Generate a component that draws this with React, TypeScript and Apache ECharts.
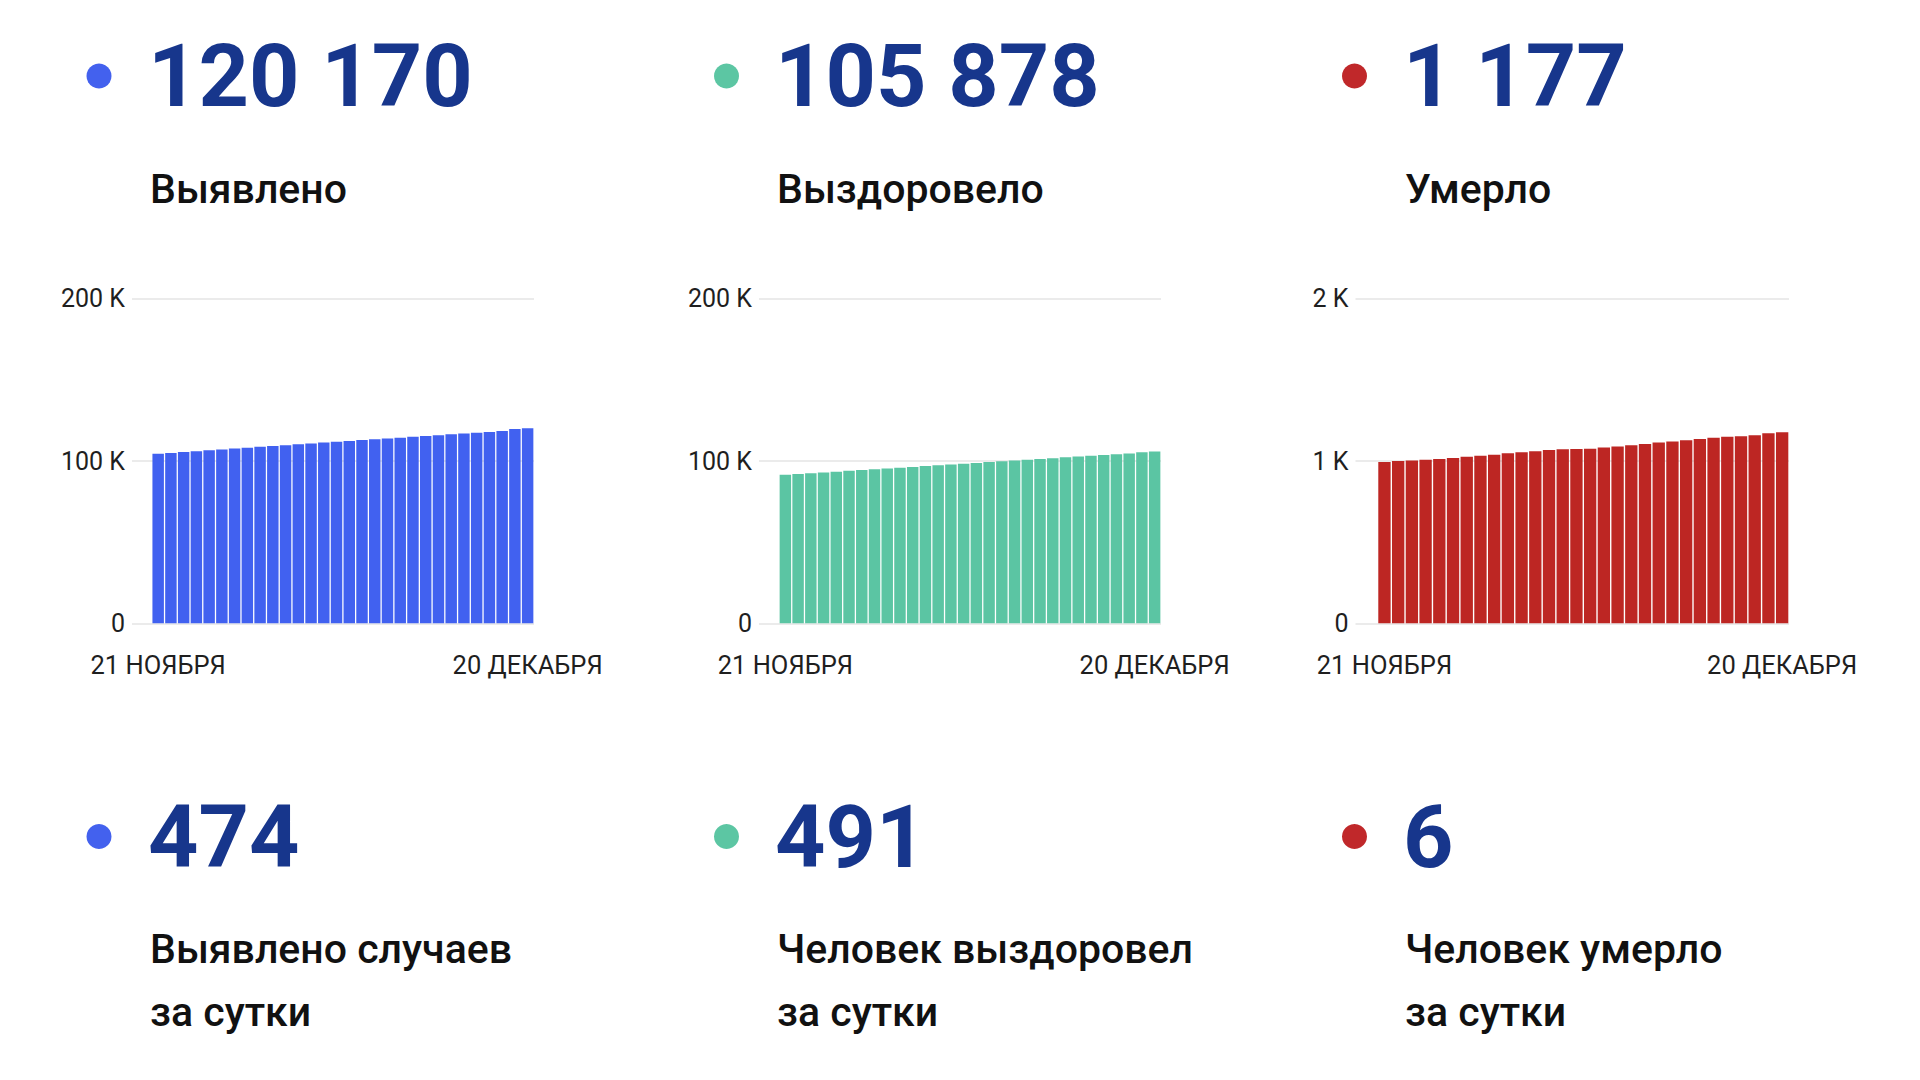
import React, { useEffect, useRef } from 'react';
import * as echarts from 'echarts';

const dates = [
  '21 НОЯБРЯ', '22 НОЯБРЯ', '23 НОЯБРЯ', '24 НОЯБРЯ', '25 НОЯБРЯ', '26 НОЯБРЯ', '27 НОЯБРЯ', '28 НОЯБРЯ', '29 НОЯБРЯ', '30 НОЯБРЯ',
  '1 ДЕКАБРЯ', '2 ДЕКАБРЯ', '3 ДЕКАБРЯ', '4 ДЕКАБРЯ', '5 ДЕКАБРЯ', '6 ДЕКАБРЯ', '7 ДЕКАБРЯ', '8 ДЕКАБРЯ', '9 ДЕКАБРЯ', '10 ДЕКАБРЯ',
  '11 ДЕКАБРЯ', '12 ДЕКАБРЯ', '13 ДЕКАБРЯ', '14 ДЕКАБРЯ', '15 ДЕКАБРЯ', '16 ДЕКАБРЯ', '17 ДЕКАБРЯ', '18 ДЕКАБРЯ', '19 ДЕКАБРЯ', '20 ДЕКАБРЯ',
];

const casesTotal = [
  104450, 104990, 105530, 106070, 106610, 107150, 107690, 108220, 108750, 109280,
  109800, 110320, 110840, 111360, 111880, 112390, 112900, 113410, 113920, 114430,
  114940, 115450, 115960, 116460, 116960, 117460, 117960, 118460, 119696, 120170,
];

const recoveredTotal = [
  91500, 91990, 92480, 92970, 93460, 93950, 94440, 94930, 95420, 95910,
  96400, 96890, 97380, 97870, 98360, 98850, 99340, 99830, 100320, 100810,
  101300, 101790, 102280, 102770, 103260, 103750, 104240, 104730, 105387, 105878,
];

const deathsTotal = [
  994, 1000, 1004, 1008, 1012, 1019, 1027, 1033, 1039, 1048,
  1054, 1060, 1068, 1072, 1074, 1076, 1083, 1089, 1097, 1105,
  1114, 1120, 1128, 1136, 1143, 1149, 1153, 1159, 1171, 1177,
];

const headlineValues = ['120 170', '105 878', '1 177'];
const headlineLabels = ['Выявлено', 'Выздоровело', 'Умерло'];
const dailyValues = ['474', '491', '6'];
const dailyLabels = ['Выявлено случаев\nза сутки', 'Человек выздоровел\nза сутки', 'Человек умерло\nза сутки'];
const axisMax = [200000, 200000, 2000];
const axisInterval = [100000, 100000, 1000];

const FONT = 'Roboto, "Noto Sans", sans-serif';
const NUM_COLOR = '#17368c';

const panels = [
  { data: casesTotal, dotX: 99, textX: 148, axisLeft: 132, axisRight: 534, barLeft: 151.8, bar: '#4161f0', dot: '#4361ee' },
  { data: recoveredTotal, dotX: 726.5, textX: 775, axisLeft: 759, axisRight: 1161, barLeft: 779, bar: '#5bc5a3', dot: '#5cc6a3' },
  { data: deathsTotal, dotX: 1354.5, textX: 1403, axisLeft: 1355.5, axisRight: 1789, barLeft: 1377.6, bar: '#bd2623', dot: '#c0282a' },
];

const PLOT_TOP = 298.8;
const PLOT_H = 324.5;

function fmtK(v: number) {
  if (v === 0) return '0';
  return v / 1000 + ' K';
}

export default function App() {
  const ref = useRef<HTMLDivElement>(null);
  useEffect(() => {
    if (!ref.current) return;
    const chart = echarts.init(ref.current, null, { renderer: 'svg' });
    const grid: any[] = [];
    const xAxis: any[] = [];
    const yAxis: any[] = [];
    const series: any[] = [];
    const graphic: any[] = [];

    panels.forEach((p, i) => {
      grid.push({ left: p.axisLeft, top: PLOT_TOP, width: p.axisRight - p.axisLeft, height: PLOT_H, containLabel: false });
      grid.push({ left: p.barLeft, top: PLOT_TOP, width: p.axisRight - p.barLeft, height: PLOT_H, containLabel: false });
      xAxis.push({ gridIndex: 2 * i, type: 'value', show: false, min: 0, max: 1 });
      xAxis.push({
        gridIndex: 2 * i + 1,
        type: 'category',
        data: dates,
        axisLine: { show: false },
        axisTick: { show: false },
        axisLabel: {
          interval: (idx: number) => idx === 0 || idx === dates.length - 1,
          color: '#1f1f1f',
          fontFamily: FONT,
          fontSize: 25.5,
          margin: 29,
        },
      });
      yAxis.push({
        gridIndex: 2 * i,
        type: 'value',
        min: 0,
        max: axisMax[i],
        interval: axisInterval[i],
        axisLine: { show: false },
        axisTick: { show: false },
        axisLabel: { formatter: fmtK, color: '#1f1f1f', fontFamily: FONT, fontSize: 25, margin: 7 },
        splitLine: { lineStyle: { color: '#ebebeb', width: 2 } },
      });
      yAxis.push({ gridIndex: 2 * i + 1, type: 'value', min: 0, max: axisMax[i], show: false, splitLine: { show: false } });
      series.push({
        type: 'bar',
        xAxisIndex: 2 * i + 1,
        yAxisIndex: 2 * i + 1,
        data: p.data,
        barCategoryGap: '10%',
        itemStyle: { color: p.bar },
      });

      graphic.push({ type: 'circle', shape: { cx: p.dotX, cy: 76, r: 12.5 }, style: { fill: p.dot } });
      graphic.push({
        type: 'text', x: p.textX, y: 75.5,
        style: { text: headlineValues[i], fill: NUM_COLOR, font: `bold 88px ${FONT}`, verticalAlign: 'middle', align: 'left' },
      });
      graphic.push({
        type: 'text', x: p.textX + 2, y: 189,
        style: { text: headlineLabels[i], fill: '#111', font: `500 41px ${FONT}`, verticalAlign: 'middle', align: 'left' },
      });
      graphic.push({ type: 'circle', shape: { cx: p.dotX, cy: 836.5, r: 12.5 }, style: { fill: p.dot } });
      graphic.push({
        type: 'text', x: p.textX, y: 836,
        style: { text: dailyValues[i], fill: NUM_COLOR, font: `bold 88px ${FONT}`, verticalAlign: 'middle', align: 'left' },
      });
      graphic.push({
        type: 'text', x: p.textX + 2, y: 917,
        style: { text: dailyLabels[i], fill: '#111', font: `500 41px ${FONT}`, lineHeight: 63, verticalAlign: 'top', align: 'left' },
      });
    });

    chart.setOption({
      animation: false,
      backgroundColor: '#ffffff',
      grid,
      xAxis,
      yAxis,
      series,
      graphic,
    });
    return () => chart.dispose();
  }, []);
  return <div ref={ref} style={{ position: 'fixed', left: 0, top: 0, width: 1920, height: 1080, background: '#fff' }} />;
}
